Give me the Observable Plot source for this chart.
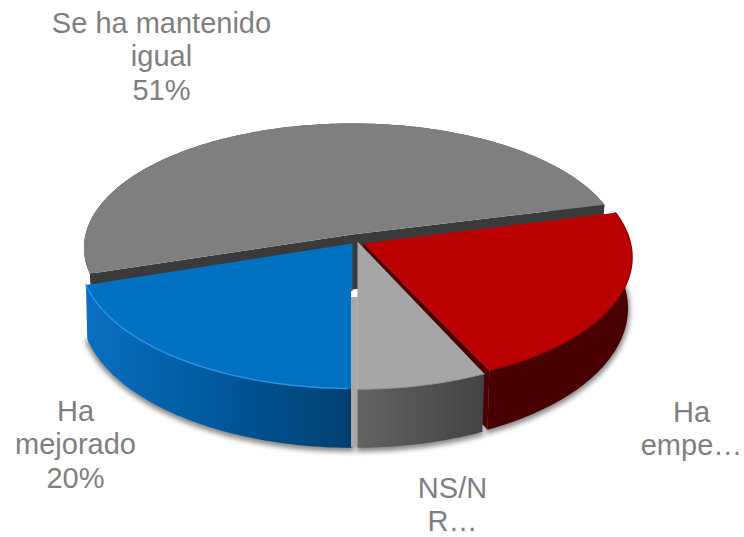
<!DOCTYPE html>
<html>
<head>
<meta charset="utf-8">
<script src="https://cdn.jsdelivr.net/npm/d3@7"></script>
<script src="https://cdn.jsdelivr.net/npm/@observablehq/plot@0.6"></script>
<style>html,body{margin:0;padding:0;background:#fff}</style>
</head>
<body>
<div id="chart"></div>
<script>
// Shares, clockwise from the first-slice angle
const categories = ["Ha empeorado", "NS/NR", "Ha mejorado", "Se ha mantenido igual"];
const shares = [22, 7, 20, 51];
const labelTexts = ["Se ha mantenido\nigual\n51%", "Ha\nmejorado\n20%", "NS/N\nR…", "Ha\nempe…"];
const labelX = [161, 75, 452, 691];
const labelY = [55, 443, 503, 427];

// Projection of the tilted, exploded pie
const firstAngle = -14.4, persp = -0.107, bottomB = 136;
const slices = [
  {ax: 363, ay: 243, b: 127, by: 293, rx: 267, sink: 0.985},
  {ax: 357, ay: 241, b: 132, by: 295, rx: 269, sink: 0.985},
  {ax: 352, ay: 243, b: 129.5, by: 295, rx: 271, sink: 0.995},
  {ax: 352, ay: 234, b: 123, by: 289, rx: 267, sink: 0.985}
];
let cum = firstAngle;
slices.forEach((s, i) => { s.a0 = cum; cum += shares[i] * 3.6; s.a1 = cum; s.name = categories[i]; });

const rad = d => d * Math.PI / 180;
const topPt = (s, t) => { const u = Math.cos(rad(t)), v = Math.sin(rad(t)), w = 1 + persp * v;
  return {x: s.ax + s.rx * u / w, y: s.ay + s.b * v / w}; };
const botPt = (s, t) => { const u = Math.cos(rad(t)), v = Math.sin(rad(t)), w = 1 + persp * v;
  return {x: s.ax + s.rx * s.sink * u / w, y: s.by + bottomB * v / w}; };
const arc = (f, s, a0 = s.a0, a1 = s.a1) => d3.range(a0, a1, 1).concat([a1]).map(t => f(s, t));
const wedgeTop = s => [{x: s.ax, y: s.ay}, ...arc(topPt, s)];
const wedgeBot = s => [{x: s.ax, y: s.by}, ...arc(botPt, s)];
const rim = (s, a0, a1) => [...arc(topPt, s, a0, a1), ...arc(botPt, s, a0, a1).reverse()];
const cut = (s, t) => [{x: s.ax, y: s.ay}, topPt(s, t), botPt(s, t), {x: s.ax, y: s.by}];
const poly = (pts, fill, o = {}) => Plot.line(pts, {x: "x", y: "y", fill, stroke: "none", ...o});
const curve = (pts, stroke, strokeWidth, o = {}) => Plot.line(pts, {x: "x", y: "y", stroke, strokeWidth, ...o});

const [red, ns, blue, gray] = slices;

const defs = () => {
  const d = d3.create("svg:defs");
  const grad = (id, x1, x2, stops) => {
    const g = d.append("linearGradient").attr("id", id).attr("gradientUnits", "userSpaceOnUse")
      .attr("x1", x1).attr("x2", x2).attr("y1", 0).attr("y2", 0);
    stops.forEach(([o, c]) => g.append("stop").attr("offset", o).attr("stop-color", c));
  };
  grad("blueSide", 86, 352, [[0, "#0a6fc2"], [0.45, "#005a9e"], [1, "#003f70"]]);
  grad("nsSide", 357, 484, [[0, "#636363"], [1, "#424242"]]);
  return d.node();
};

const chart = Plot.plot({
  width: 744, height: 537,
  margin: 0,
  x: {domain: [0, 744], range: [0, 744], axis: null},
  y: {domain: [0, 537], range: [0, 537], axis: null},
  style: {fontFamily: "'Liberation Sans', Arial, sans-serif", background: "#fff"},
  marks: [
    defs,
    // soft shadow under the slices
    ...[blue, ns, red].map(s => poly(wedgeBot(s).map(p => ({x: p.x, y: p.y + 2})), "#8a8a8a",
      {stroke: "#8a8a8a", strokeWidth: 4, imageFilter: "blur(2.5px)"})),
    // back slice
    poly(rim(gray, gray.a0, gray.a1), "#4a4a4a"),
    poly([topPt(gray, gray.a0), {x: gray.ax, y: gray.ay}, topPt(gray, gray.a1), botPt(gray, gray.a1), {x: gray.ax, y: gray.by}, botPt(gray, gray.a0)], "#3a3a3a"),
    poly(wedgeTop(gray), "#7f7f7f"),
    // red slice
    poly(rim(red, red.a0, red.a1), "#480000"),
    poly(cut(red, red.a1), "#4a0000"),
    poly(wedgeTop(red), "#bb0000"),
    curve(arc(topPt, red), "#9a0000", 1.5, {imageFilter: "blur(0.6px)"}),
    // NS/NR slice
    poly(rim(ns, ns.a0, ns.a1), "url(#nsSide)"),
    poly(wedgeTop(ns), "#a6a6a6"),
    curve(arc(topPt, ns), "#8f8f8f", 1, {imageFilter: "blur(0.6px)"}),
    // blue slice
    poly(rim(blue, blue.a0, blue.a1), "url(#blueSide)"),
    poly(wedgeTop(blue), "#0070c0"),
    curve(arc(topPt, blue, blue.a0 + 1, blue.a1), "#2c90e6", 1.5, {imageFilter: "blur(0.4px)"}),
    // gap between the blue and NS/NR slices
    Plot.rect([0], {x1: blue.ax - 1, x2: ns.ax, y1: gray.by + 3, y2: botPt(blue, 90).y, fill: "#a8a8a8"}),
    Plot.rect([0], {x1: blue.ax - 1, x2: ns.ax, y1: gray.by + 2, y2: gray.by + 8, fill: "#fff", imageFilter: "blur(0.6px)"}),
    // labels
    Plot.text(labelTexts, {
      x: (d, i) => labelX[i], y: (d, i) => labelY[i], text: d => d,
      fontSize: 29, lineHeight: 1.15, fill: "#7f7f7f", textAnchor: "middle"
    })
  ]
});
document.getElementById("chart").append(chart);
</script>
</body>
</html>
